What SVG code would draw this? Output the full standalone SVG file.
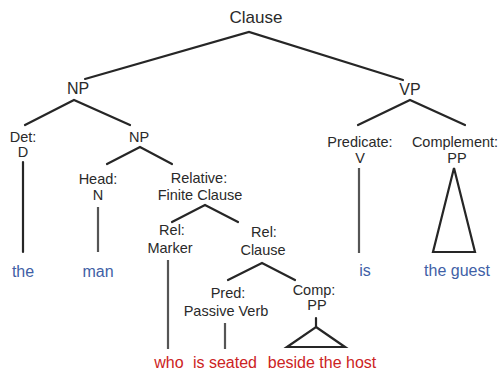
<svg xmlns="http://www.w3.org/2000/svg" width="499" height="373" viewBox="0 0 499 373">
<style>
text{font-family:"Liberation Sans",Arial,sans-serif;text-anchor:middle;fill:#2a2a2a}
.lab{font-size:14.5px}
.cat{font-size:16px}
.top{font-size:17px}
.leafB{font-size:16px;fill:#3f5fa6}
.leafR{font-size:16px;fill:#cc2323}
.ln{stroke:#262626;stroke-width:2.2;fill:none;stroke-linecap:round;stroke-linejoin:miter}
.vl{stroke:#555;stroke-width:2.2;fill:none}
</style>
<rect width="499" height="373" fill="#ffffff"/>
<g id="connectors">
<polyline class="ln" points="85,79 249,32 403,80"/>
<polyline class="ln" points="25,125 74,100 130,125"/>
<polyline class="ln" points="107,164 140,147 172,164"/>
<polyline class="ln" points="358,125 410,100 465,125"/>
<polyline class="ln" points="172,222 205,205 238,222"/>
<polyline class="ln" points="228,280 262,263 295,280"/>
<line class="ln" x1="23" y1="162" x2="23" y2="252"/>
<line class="vl" x1="98" y1="207" x2="98" y2="252"/>
<line class="vl" x1="168" y1="260" x2="168" y2="349"/>
<line class="vl" x1="225" y1="323" x2="225" y2="349"/>
<line class="vl" x1="359" y1="168" x2="359" y2="253"/>
<line class="ln" x1="316" y1="318" x2="316" y2="327"/>
<polygon class="ln" points="316,327 345,347 287,347"/>
<polygon class="ln" points="454,168 475,252 433,252"/>
</g>
<g id="n-clause"><text class="top" x="256" y="23">Clause</text></g>
<g id="n-np"><text class="cat" x="78" y="94">NP</text></g>
<g id="n-vp"><text class="cat" x="410" y="95">VP</text></g>
<g id="n-det"><text class="lab" x="23" y="142">Det:</text><text class="lab" x="23" y="157">D</text></g>
<g id="n-np2"><text class="lab" x="139" y="142">NP</text></g>
<g id="n-head"><text class="lab" x="98" y="184">Head:</text><text class="lab" x="98" y="200">N</text></g>
<g id="n-relative"><text class="lab" x="199" y="183">Relative:</text><text class="lab" x="200" y="200">Finite Clause</text></g>
<g id="n-relmarker"><text class="lab" x="172" y="235">Rel:</text><text class="lab" x="170" y="253">Marker</text></g>
<g id="n-relclause"><text class="lab" x="264" y="237">Rel:</text><text class="lab" x="263" y="255">Clause</text></g>
<g id="n-pred"><text class="lab" x="228" y="298">Pred:</text><text class="lab" x="226" y="316">Passive Verb</text></g>
<g id="n-comp"><text class="lab" x="314" y="295">Comp:</text><text class="lab" x="317" y="310">PP</text></g>
<g id="n-predicate"><text class="lab" x="360" y="147">Predicate:</text><text class="lab" x="360" y="163">V</text></g>
<g id="n-complement"><text class="lab" x="455" y="147">Complement:</text><text class="lab" x="457" y="163">PP</text></g>
<g id="leaves">
<text class="leafB" x="23" y="277">the</text>
<text class="leafB" x="98" y="277">man</text>
<text class="leafB" x="365" y="276">is</text>
<text class="leafB" x="457" y="276">the guest</text>
<text class="leafR" x="169" y="368">who</text>
<text class="leafR" x="225" y="368">is seated</text>
<text class="leafR" x="322" y="368">beside the host</text>
</g>
</svg>
